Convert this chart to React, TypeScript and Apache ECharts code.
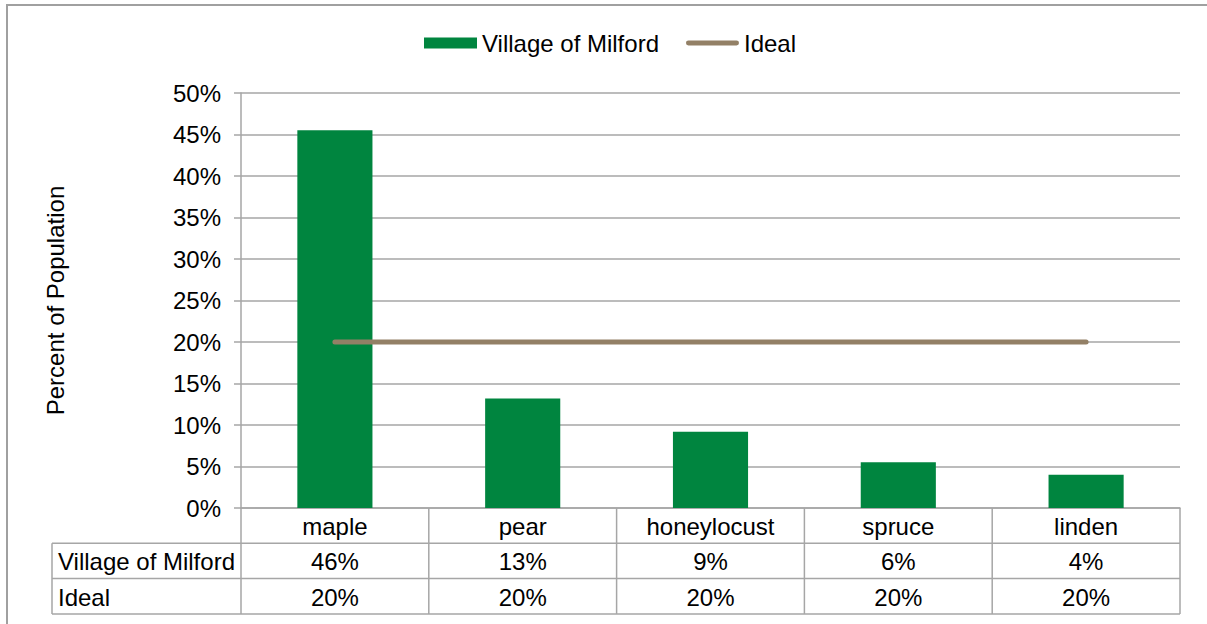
import React, { useEffect, useRef } from "react";
import * as echarts from "echarts";

const categories = ["maple", "pear", "honeylocust", "spruce", "linden"];
const milfordValues = [45.5, 13.2, 9.2, 5.5, 4.0];
const idealValues = [20, 20, 20, 20, 20];
const seriesNames = ["Village of Milford", "Ideal"];
const yTicks = { min: 0, max: 50, interval: 5 };

const W = 1207;
const H = 624;
const GRID_LEFT = 241;
const GRID_RIGHT_X = 1180;
const GRID_TOP = 93;
const GRID_BOTTOM_Y = 508;
const TABLE_LEFT = 52;
const ROW_H = 35.3;
const FONT = "'Liberation Sans', Arial, Helvetica, sans-serif";
const FS = 24;
const LINE_COLOR = "#A6A6A6";
const GREEN = "#00853F";
const BROWN = "#938066";

export default function App() {
  const ref = useRef<HTMLDivElement>(null);
  useEffect(() => {
    if (!ref.current) return;
    const chart = echarts.init(ref.current, null, { renderer: "svg", width: W, height: H });
    const colW = (GRID_RIGHT_X - GRID_LEFT) / categories.length;
    const y1 = GRID_BOTTOM_Y + ROW_H;
    const y2 = GRID_BOTTOM_Y + 2 * ROW_H;
    const y3 = GRID_BOTTOM_Y + 3 * ROW_H;
    const graphics: any[] = [];
    const ls = { stroke: LINE_COLOR, lineWidth: 1.5 };
    graphics.push({ type: "rect", shape: { x: 7, y: 5, width: W, height: H + 20 }, style: { fill: "none", stroke: "#A0A0A0", lineWidth: 2 }, silent: true });
    [y1, y2, y3].forEach((y) => {
      graphics.push({ type: "line", shape: { x1: TABLE_LEFT, y1: y, x2: GRID_RIGHT_X, y2: y }, style: ls });
    });
    graphics.push({ type: "line", shape: { x1: TABLE_LEFT, y1: y1, x2: TABLE_LEFT, y2: y3 }, style: ls });
    for (let i = 0; i <= categories.length; i++) {
      const x = GRID_LEFT + i * colW;
      graphics.push({ type: "line", shape: { x1: x, y1: GRID_BOTTOM_Y, x2: x, y2: y3 }, style: ls });
    }
    seriesNames.forEach((t, r) => {
      graphics.push({ type: "text", x: TABLE_LEFT + 6, y: GRID_BOTTOM_Y + (r + 1.5) * ROW_H + 1, style: { text: t, font: `${FS}px ${FONT}`, fill: "#000", textAlign: "left", textVerticalAlign: "middle" } });
    });
    categories.forEach((c, i) => {
      const x = GRID_LEFT + (i + 0.5) * colW;
      graphics.push({ type: "text", x, y: GRID_BOTTOM_Y + 0.5 * ROW_H + 1, style: { text: c, font: `${FS}px ${FONT}`, fill: "#000", textAlign: "center", textVerticalAlign: "middle" } });
      graphics.push({ type: "text", x, y: GRID_BOTTOM_Y + 1.5 * ROW_H + 1, style: { text: Math.round(milfordValues[i]) + "%", font: `${FS}px ${FONT}`, fill: "#000", textAlign: "center", textVerticalAlign: "middle" } });
      graphics.push({ type: "text", x, y: GRID_BOTTOM_Y + 2.5 * ROW_H + 1, style: { text: Math.round(idealValues[i]) + "%", font: `${FS}px ${FONT}`, fill: "#000", textAlign: "center", textVerticalAlign: "middle" } });
    });

    chart.setOption({
      animation: false,
      textStyle: { fontFamily: FONT },
      legend: {
        top: 26,
        left: 419,
        itemWidth: 53,
        itemHeight: 11,
        itemGap: 27,
        textStyle: { fontSize: FS, color: "#000", fontFamily: FONT },
        data: [
          { name: seriesNames[0], icon: "rect" },
          { name: seriesNames[1], icon: "path://M2.5,0 L51.5,0 A2.5,2.5 0 0 1 51.5,5 L2.5,5 A2.5,2.5 0 0 1 2.5,0 Z", itemStyle: { color: BROWN } },
        ],
      },
      grid: { left: GRID_LEFT, right: W - GRID_RIGHT_X, top: GRID_TOP, bottom: H - GRID_BOTTOM_Y, containLabel: false },
      xAxis: {
        type: "category",
        data: categories,
        axisLine: { show: true, lineStyle: { color: LINE_COLOR, width: 1.5 } },
        axisTick: { show: false },
        axisLabel: { show: false },
      },
      yAxis: {
        type: "value",
        min: yTicks.min,
        max: yTicks.max,
        interval: yTicks.interval,
        name: "Percent of Population",
        nameLocation: "middle",
        nameRotate: 90,
        nameGap: 174,
        nameTextStyle: { fontSize: FS, color: "#000", fontFamily: FONT },
        axisLine: { show: true, lineStyle: { color: LINE_COLOR, width: 1.5 } },
        axisTick: { show: true, length: 7, lineStyle: { color: LINE_COLOR, width: 1.5 } },
        axisLabel: { formatter: "{value}%", fontSize: FS, color: "#000", margin: 20, fontFamily: FONT },
        splitLine: { show: true, lineStyle: { color: LINE_COLOR, width: 1.5 } },
      },
      series: [
        {
          name: seriesNames[0],
          type: "bar",
          data: milfordValues,
          barWidth: "40%",
          itemStyle: { color: GREEN },
        },
        {
          name: seriesNames[1],
          type: "line",
          data: idealValues,
          symbol: "none",
          lineStyle: { color: BROWN, width: 5, cap: "round" },
          itemStyle: { color: BROWN },
        },
      ],
      graphic: graphics,
    });
    return () => chart.dispose();
  }, []);
  return <div ref={ref} style={{ position: "fixed", left: 0, top: 0, width: W, height: H, background: "#fff" }} />;
}
